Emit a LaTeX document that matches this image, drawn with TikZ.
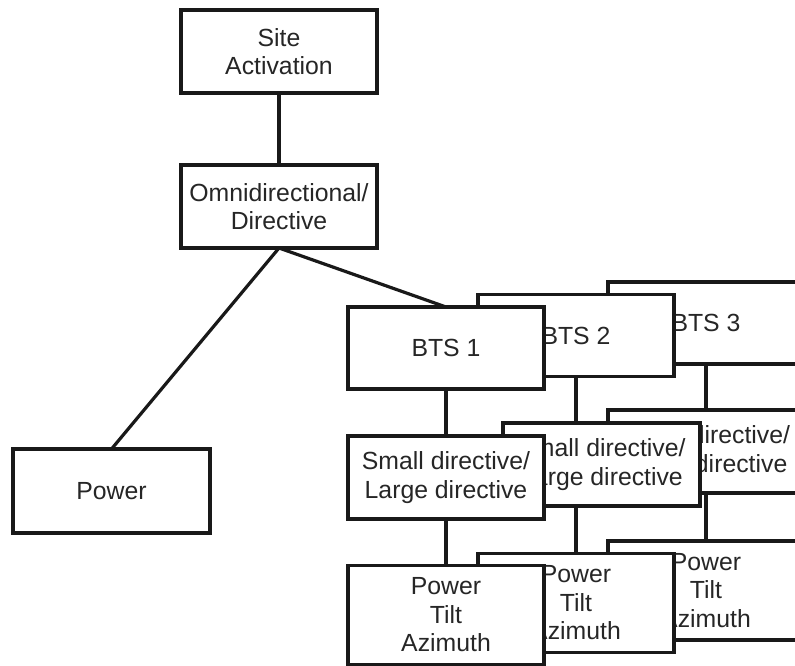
\documentclass[tikz,border=0pt]{standalone}
\usepackage{fontspec}
\setmainfont{Liberation Sans}
\begin{document}
\begin{tikzpicture}[x=1pt,y=-1pt,
  box/.style={draw=black!90, line width=3.2pt, fill=white, inner sep=0pt, outer sep=0pt,
    align=center, font=\fontsize{24.8}{28.5}\selectfont, text=black!85},
  wide/.style={box, minimum width=196pt},
  conn/.style={draw=black!90, line width=3.2pt}]
\useasboundingbox (0,0) rectangle (795,666);
\clip (0,0) rectangle (795,666);
% top part
\node[wide, minimum height=83pt] (site) at (279,51.5) {Site\\Activation};
\node[wide, minimum height=83pt] (omni) at (279,206.5) {Omnidirectional/\\Directive};
\node[wide, minimum width=197pt, minimum height=84pt] (power) at (111.5,491) {Power};
% BTS row (back to front)
\node[wide, minimum height=82pt] (bts3) at (706,323) {BTS 3};
\node[wide, minimum height=82pt] (bts2) at (576,335.5) {BTS 2};
\node[wide, minimum height=82pt] (bts1) at (446,348) {BTS 1};
% antenna type row
\node[wide, minimum height=83pt] (sd3) at (706,451.5) {Small directive/\\Large directive};
\node[wide, minimum width=197pt, minimum height=83pt] (sd2) at (601.5,464.5) {Small directive/\\Large directive};
\node[wide, minimum height=83pt] (sd1) at (446,477.5) {Small directive/\\Large directive};
% parameter row
\node[wide, minimum height=99pt] (pta3) at (706,590.5) {Power\\Tilt\\Azimuth};
\node[wide, minimum height=99pt] (pta2) at (576,603) {Power\\Tilt\\Azimuth};
\node[wide, minimum height=99pt] (pta1) at (446,615) {Power\\Tilt\\Azimuth};
% connectors
\draw[conn] (site.south) -- (omni.north);
\draw[conn] (omni.south) -- (power.north);
\draw[conn] (omni.south) -- (bts1.north);
\draw[conn] (bts1.south) -- (sd1.north);
\draw[conn] (bts2.south) -- (bts2.south |- sd2.north);
\draw[conn] (bts3.south) -- (sd3.north);
\draw[conn] (sd1.south) -- (pta1.north);
\draw[conn] (pta2.north |- sd2.south) -- (pta2.north);
\draw[conn] (sd3.south) -- (pta3.north);
\end{tikzpicture}
\end{document}
